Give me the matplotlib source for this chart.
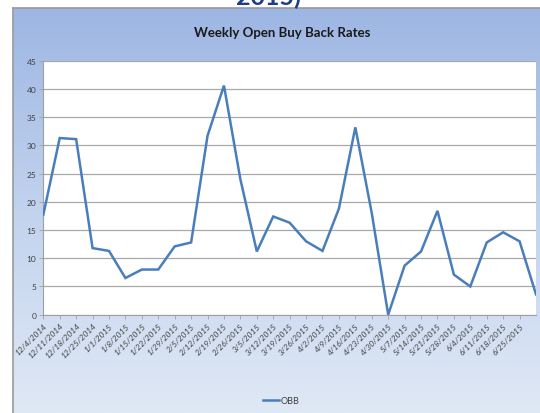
import numpy as np
import matplotlib
matplotlib.use('Agg')
import matplotlib.pyplot as plt
from matplotlib.colors import LinearSegmentedColormap

plt.rcParams['font.family'] = ['Lato', 'DejaVu Sans']

# weekly dates shown on the axis, last point (7/2) has no label
weeks = ['12/4/2014', '12/11/2014', '12/18/2014', '12/25/2014', '1/1/2015', '1/8/2015',
         '1/15/2015', '1/22/2015', '1/29/2015', '2/5/2015', '2/12/2015', '2/19/2015',
         '2/26/2015', '3/5/2015', '3/12/2015', '3/19/2015', '3/26/2015', '4/2/2015',
         '4/9/2015', '4/16/2015', '4/23/2015', '4/30/2015', '5/7/2015', '5/14/2015',
         '5/21/2015', '5/28/2015', '6/4/2015', '6/11/2015', '6/18/2015', '6/25/2015']
obb = [17.7, 31.3, 31.1, 11.8, 11.3, 6.5, 8.0, 8.0, 12.1, 12.8,
       31.7, 40.6, 24.0, 11.2, 17.4, 16.3, 13.0, 11.3, 18.8, 33.2,
       18.0, 0.0, 8.7, 11.2, 18.4, 7.1, 5.0, 12.8, 14.6, 13.0, 3.6]
yticks = [0, 5, 10, 15, 20, 25, 30, 35, 40, 45]

W, H = 540, 414
fig = plt.figure(figsize=(W / 100, H / 100), dpi=100)
fig.patch.set_facecolor('white')

# chart panel with vertical gradient
bg = fig.add_axes([13 / W, 0, 1 - 13 / W, (H - 9) / H])
cmap = LinearSegmentedColormap.from_list('panel', ['#9db6e3', '#c2d3ee', '#dfe8f5'])
grad = np.linspace(0, 1, 256).reshape(-1, 1)
bg.imshow(grad, aspect='auto', cmap=cmap, extent=[0, 1, 0, 1], origin='upper')
bg.set_xlim(0, 1)
bg.set_ylim(0, 1)
bg.set_xticks([])
bg.set_yticks([])
for s in ['right', 'bottom']:
    bg.spines[s].set_visible(False)
for s in ['left', 'top']:
    bg.spines[s].set_color('#9a9a9a')
    bg.spines[s].set_linewidth(1.2)

# heading above the panel, mostly outside the picture as in the source
fig.text(268 / W, 1 - 5 / H, '2015)', ha='center', va='baseline', fontsize=18,
         fontweight='bold', color='#1f3d84', zorder=0)

ax = fig.add_axes([43.3 / W, 1 - 315.7 / H, (536 - 43.3) / W, (315.7 - 61.7) / H])
ax.set_facecolor('white')
x = np.arange(len(obb))
line, = ax.plot(x, obb, color='#4a7ebb', lw=1.8, solid_joinstyle='miter', label='OBB', zorder=3)

ax.set_xlim(0, len(obb) - 1)
ax.set_ylim(0, 45)
ax.set_yticks(yticks)
ax.set_yticklabels([str(t) for t in yticks], fontsize=6, color='#404040')
ax.set_xticks(np.arange(len(weeks)))
ax.set_xticklabels(weeks, rotation=45, ha='right', rotation_mode='anchor',
                   fontsize=6, color='#404040', style='italic')
ax.grid(axis='y', color='#a8a8a8', lw=0.9)
ax.set_axisbelow(True)
ax.tick_params(axis='both', length=3, width=0.6, color='#a0a0a0', pad=2)
for s in ['top', 'right']:
    ax.spines[s].set_visible(False)
for s in ['left', 'bottom']:
    ax.spines[s].set_color('#a0a0a0')
    ax.spines[s].set_linewidth(0.8)

fig.text(282 / W, 1 - 33 / H, 'Weekly Open Buy Back Rates', ha='center', va='center',
         fontsize=9.5, fontweight='bold', color='#1a1a1a')

fig.legend(handles=[line], loc='center', bbox_to_anchor=(281 / W, 1 - 402 / H),
           frameon=False, fontsize=6.5, handlelength=1.8, handletextpad=0.2,
           labelcolor='#404040')

fig.savefig('out.png', dpi=100)
